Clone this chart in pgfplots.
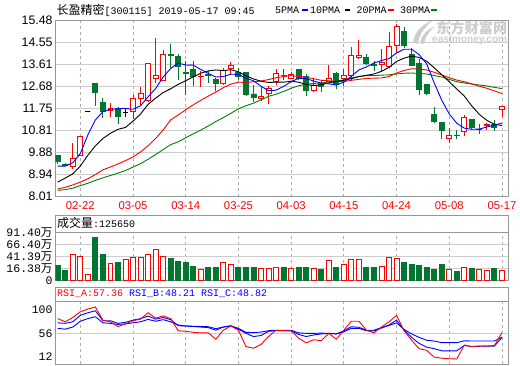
\documentclass[border=0pt]{standalone}
\usepackage{pgfplots}
\pgfplotsset{compat=1.18}
\usepackage{pgfplotstable}
\usepgfplotslibrary{statistics}
\usepackage{fontspec}
\setmainfont{Liberation Sans}
\setmonofont{Liberation Mono}
\newfontfamily\cjk{Noto Sans CJK SC}
\definecolor{kred}{RGB}{255,0,0}
\definecolor{kgreen}{RGB}{0,118,48}
\definecolor{mgreen}{RGB}{0,128,0}
\definecolor{framec}{RGB}{150,150,150}
\definecolor{gridc}{RGB}{205,205,205}
\definecolor{wm}{RGB}{205,205,205}

\pgfplotstableread{
i lo bot top hi
0 9.38 9.50 9.74 9.76
1 9.30 9.35 9.38 9.45
2 9.20 9.31 9.63 10.28
3 9.75 9.77 10.57 10.60
4 11.63 11.63 11.63 11.63
5 11.84 12.42 12.80 12.80
6 11.34 11.62 12.02 12.22
7 11.41 11.67 11.77 11.97
8 11.11 11.41 11.74 11.83
9 11.40 11.58 11.58 11.72
10 11.31 11.62 12.20 12.34
11 11.91 12.20 12.41 12.68
12 12.02 12.10 13.65 13.67
13 12.84 13.02 13.16 14.75
14 12.93 12.95 14.05 14.22
15 13.48 14.00 14.03 14.48
16 12.98 13.55 13.97 14.05
17 12.34 13.25 13.30 13.77
18 12.70 13.11 13.41 13.77
19 12.65 13.10 13.13 13.34
20 12.84 13.15 13.19 13.34
21 12.48 12.80 12.98 13.05
22 12.77 12.80 13.37 13.48
23 13.20 13.44 13.58 13.72
24 12.95 13.12 13.27 13.48
25 12.30 12.34 13.27 13.31
26 12.05 12.22 12.37 12.77
27 12.09 12.20 12.25 12.70
28 11.94 12.40 12.62 12.72
29 12.77 12.91 13.22 13.41
30 12.98 13.14 13.17 13.45
31 13.02 13.05 13.20 13.31
32 12.98 13.01 13.41 13.45
33 12.27 12.53 13.11 13.20
34 12.45 12.51 12.74 13.05
35 12.44 12.67 12.81 12.91
36 12.87 12.91 13.05 13.58
37 12.57 12.77 13.22 13.31
38 12.70 13.01 13.14 13.41
39 12.91 13.15 13.99 14.38
40 13.87 13.91 14.02 14.65
41 13.60 13.67 13.91 14.08
42 13.34 13.59 13.62 13.77
43 13.34 13.63 13.70 14.27
44 13.48 13.55 14.38 15.02
45 14.09 14.41 15.22 15.34
46 14.34 14.45 15.02 15.22
47 13.55 13.60 14.05 14.34
48 12.31 12.55 13.65 13.84
49 12.34 12.41 12.77 12.80
50 11.17 11.20 11.51 11.80
51 10.48 10.81 11.17 11.19
52 10.31 10.48 10.62 10.94
53 10.45 10.60 10.63 10.84
54 10.60 10.77 11.38 11.48
55 10.92 10.94 11.27 11.28
56 10.65 10.86 10.88 11.08
57 10.84 11.03 11.06 11.12
58 10.80 10.96 11.08 11.27
59 11.41 11.72 11.84 11.86
}\candles

\pgfplotstableread{
i ma5 ma10 ma20 ma30
0 9.31 8.63 8.34 8.28
1 9.31 8.80 8.41 8.31
2 9.45 8.98 8.51 8.37
3 9.84 9.31 8.63 8.48
4 10.63 9.77 8.77 8.58
5 11.27 10.17 8.95 8.70
6 11.62 10.48 9.15 8.81
7 11.72 10.70 9.27 8.91
8 11.74 10.87 9.40 9.01
9 11.76 10.95 9.54 9.12
10 11.72 11.22 9.70 9.27
11 11.87 11.52 9.91 9.41
12 12.25 11.93 10.17 9.60
13 12.60 12.19 10.48 9.80
14 13.09 12.43 10.84 10.01
15 13.45 12.59 11.27 10.22
16 13.68 12.78 11.48 10.34
17 13.60 12.93 11.70 10.51
18 13.59 13.10 11.91 10.68
19 13.41 13.25 12.10 10.84
20 13.24 13.35 12.28 11.01
21 13.09 13.39 12.45 11.20
22 13.11 13.36 12.64 11.37
23 13.21 13.40 12.79 11.55
24 13.20 13.31 12.87 11.74
25 13.04 13.14 12.86 11.87
26 12.93 13.01 12.89 11.98
27 12.70 12.91 12.92 12.12
28 12.51 12.86 12.98 12.27
29 12.53 12.87 13.06 12.36
30 12.69 12.87 13.11 12.48
31 12.89 12.91 13.15 12.61
32 13.04 12.87 13.11 12.72
33 13.02 12.77 13.08 12.78
34 12.92 12.73 13.02 12.82
35 12.83 12.76 12.95 12.83
36 12.80 12.84 12.93 12.88
37 12.75 12.90 12.90 12.91
38 12.87 12.95 12.90 12.97
39 13.12 13.02 12.95 13.05
40 13.39 13.11 12.99 13.11
41 13.52 13.16 13.03 13.15
42 13.68 13.22 13.04 13.15
43 13.79 13.33 13.05 13.17
44 13.87 13.50 13.11 13.18
45 14.11 13.75 13.26 13.22
46 14.27 13.89 13.37 13.25
47 14.27 13.98 13.44 13.26
48 14.04 13.92 13.43 13.24
49 13.65 13.76 13.39 13.22
50 12.84 13.48 13.29 13.15
51 12.11 13.19 13.18 13.09
52 11.52 12.89 13.06 12.99
53 11.13 12.58 12.96 12.89
54 10.92 12.28 12.89 12.84
55 10.87 11.86 12.80 12.79
56 10.88 11.50 12.70 12.75
57 10.97 11.25 12.61 12.71
58 11.04 11.09 12.50 12.65
59 11.14 11.03 12.39 12.60
}\mas

\pgfplotstableread{
i v b
0 23.3 -8.63
1 13.0 -8.63
2 45.4 -8.63
3 41.3 -8.63
4 4.1 -8.63
5 81.1 -8.63
6 46.0 -8.63
7 26.8 -8.63
8 28.9 -8.63
9 35.7 -8.63
10 39.2 -8.63
11 39.2 -8.63
12 45.4 -8.63
13 56.4 -8.63
14 41.3 -8.63
15 36.4 -8.63
16 31.5 -8.63
17 28.9 -8.63
18 21.2 -8.63
19 15.1 -8.63
20 17.9 -8.63
21 19.2 -8.63
22 28.9 -8.63
23 25.4 -8.63
24 19.2 -8.63
25 17.9 -8.63
26 17.9 -8.63
27 16.5 -8.63
28 16.5 -8.63
29 18.6 -8.63
30 19.2 -8.63
31 16.5 -8.63
32 17.9 -8.63
33 17.9 -8.63
34 16.5 -8.63
35 15.1 -8.63
36 33.0 -8.63
37 17.9 -8.63
38 24.8 -8.63
39 35.7 -8.63
40 35.7 -8.63
41 19.2 -8.63
42 17.9 -8.63
43 20.7 -8.63
44 39.2 -8.63
45 37.1 -8.63
46 29.6 -8.63
47 25.4 -8.63
48 23.3 -8.63
49 17.9 -8.63
50 15.1 -8.63
51 25.4 -8.63
52 15.1 -8.63
53 11.0 -8.63
54 18.6 -8.63
55 17.2 -8.63
56 15.1 -8.63
57 13.0 -8.63
58 17.2 -8.63
59 12.6 -8.63
}\vols

\pgfplotstableread{
i a b c
0 84 76 65.5
1 78 75 64
2 86 78 68
3 97 90 79
4 102 95 84
5 106 98.8 87.5
6 81 80 76
7 78 80 75
8 69 75 73
9 74 77 74
10 80 81 76
11 83 84 78
12 95 88.8 82.5
13 85 83 79
14 89 86 82
15 84 82 78
16 61 70.5 71.8
17 60 70 70
18 58 69 69.5
19 57 68 69
20 57 67 68.6
21 45 62 65
22 62 68 68
23 70 70.5 70
24 62 64 65.5
25 31 56 58
26 28 50 57.5
27 35 52 58.5
28 50 60 61
29 62 61 62
30 61 61 62
31 61 60.5 62
32 47 54 57
33 38 50 56
34 44 53 56
35 42 55 56.5
36 56 56 56
37 45 55 55
38 62 59 61
39 79 65.5 68.6
40 79 65.5 67.5
41 62 61 62
42 57 60.5 62
43 68 66 67
44 78 72 71
45 90 81 76
46 61 62 63.6
47 43 48.4 55
48 27 37 48.4
49 24 30 43
50 11 27 41.5
51 9 23 38.4
52 8 23 38.4
53 7.5 23 38.4
54 34 33 42
55 31 31 41.5
56 32 31.5 41.5
57 32 32 41.5
58 33 32 41.5
59 57.4 48.2 48.8
}\rsi

\pgfplotsset{
  panel/.style={
    scale only axis, width=452.8pt, xmin=-0.27, xmax=59.87,
    anchor=south west,
    axis line style={framec, line width=0.9pt},
    tick style={draw=none},
    xtick={3,10,17,24,31,38,45,52,59},
    xmajorgrids,
    x grid style={color=gridc!85!black, dash pattern=on 3pt off 3pt, line width=0.8pt},
    y grid style={color=gridc, line width=0.8pt},
    yticklabel style={anchor=east, inner sep=0pt, xshift=-3pt},
  },
  upc/.style={draw=kred, fill=white, line width=0.9pt},
  dnc/.style={draw=kgreen, fill=kgreen, line width=0.9pt},
  djc/.style={draw=black, fill=white, line width=0.9pt},
}
% candle: style, row (= position); values read from \candles
\newcommand\candle[2]{%
  \pgfplotstablegetelem{#2}{lo}\of\candles\let\vlo\pgfplotsretval
  \pgfplotstablegetelem{#2}{bot}\of\candles\let\vbot\pgfplotsretval
  \pgfplotstablegetelem{#2}{top}\of\candles\let\vtop\pgfplotsretval
  \pgfplotstablegetelem{#2}{hi}\of\candles\let\vhi\pgfplotsretval
  \edef\tmpplot{\noexpand\addplot[#1, boxplot prepared={draw direction=y, draw position=#2,
      lower whisker=\vlo, lower quartile=\vbot, median=\vtop,
      upper quartile=\vtop, upper whisker=\vhi,
      box extend=0.66, whisker extend=0}] coordinates {};}%
  \tmpplot}
\newcommand\volbar[2]{%
  \pgfplotstablegetelem{#2}{v}\of\vols\let\vv\pgfplotsretval
  \pgfplotstablegetelem{#2}{b}\of\vols\let\vb\pgfplotsretval
  \edef\tmpplot{\noexpand\addplot[#1, boxplot prepared={draw direction=y, draw position=#2,
      lower whisker=\vb, lower quartile=\vb, median=\vv,
      upper quartile=\vv, upper whisker=\vv,
      box extend=0.66, whisker extend=0}] coordinates {};}%
  \tmpplot}

\begin{document}
\begin{tikzpicture}[x=1pt,y=1pt]
\useasboundingbox (0,0) rectangle (520,365);

% watermark
\fill[wm] (413,323) .. controls (415,334) and (423,341) .. (433,345)
  .. controls (425,338) and (419,331) .. (418,321) -- cycle;
\fill[wm] (420,322) .. controls (422,331) and (428,336) .. (434,338)
  .. controls (429,333) and (425,328) .. (424,321) -- cycle;
\node[anchor=west, inner sep=0pt, text=wm] at (436,336.5)
  {\cjk\bfseries\fontsize{14.2}{15}\selectfont 东方财富网};
\node[anchor=west, inner sep=0pt, text=wm] at (432,325)
  {\bfseries\fontsize{10}{11}\selectfont eastmoney.com};

% titles
\node[anchor=west, inner sep=0pt] at (56.5,355)
  {{\cjk\fontsize{12}{14}\selectfont 长盈精密}{\ttfamily\fontsize{10}{12}\selectfont [300115] 2019-05-17 09:45}};
\node[anchor=west, inner sep=0pt] at (275,355) {\ttfamily\fontsize{10}{12}\selectfont 5PMA};
\draw[blue, line width=2pt] (302,354.5) -- (307.5,354.5);
\node[anchor=west, inner sep=0pt] at (310,355) {\ttfamily\fontsize{10}{12}\selectfont 10PMA};
\draw[black, line width=2pt] (344.5,354.5) -- (350,354.5);
\node[anchor=west, inner sep=0pt] at (356.5,355) {\ttfamily\fontsize{10}{12}\selectfont 20PMA};
\draw[kred, line width=2pt] (388,354.5) -- (393.5,354.5);
\node[anchor=west, inner sep=0pt] at (400,355) {\ttfamily\fontsize{10}{12}\selectfont 30PMA};
\draw[mgreen, line width=2pt] (431,354.5) -- (436.5,354.5);

% ---------- price panel ----------
\begin{axis}[panel, at={(55.7pt,168.3pt)}, height=176pt,
  ymin=8.01, ymax=15.48, ymajorgrids,
  ytick={8.01,8.94375,9.8775,10.81125,11.745,12.67875,13.6125,14.54625,15.48},
  yticklabels={8.01,8.94,9.88,10.81,11.75,12.68,13.61,14.55,15.48},
  yticklabel style={font=\fontsize{12.3}{13}\selectfont},
  xticklabels={02-22,03-05,03-14,03-25,04-03,04-15,04-24,05-08,05-17},
  xticklabel style={text=kred, font=\fontsize{11.3}{12}\selectfont, inner sep=0pt, yshift=-4.5pt}]
\pgfplotsinvokeforeach{2,3,7,10,11,12,13,14,19,22,23,27,28,29,31,34,36,38,39,40,43,44,45,52,54,56,57,59}{\candle{upc}{#1}}
\pgfplotsinvokeforeach{0,1,5,6,8,15,16,17,18,20,21,24,25,26,30,32,33,35,37,41,42,46,47,48,49,50,51,53,55,58}{\candle{dnc}{#1}}
\pgfplotsinvokeforeach{4,9}{\candle{djc}{#1}}
\addplot[mgreen, line width=0.9pt] table[x=i, y=ma30] {\mas};
\addplot[kred, line width=0.9pt] table[x=i, y=ma20] {\mas};
\addplot[black, line width=0.9pt] table[x=i, y=ma10] {\mas};
\addplot[blue, line width=0.9pt] table[x=i, y=ma5] {\mas};
\end{axis}

% ---------- volume panel ----------
\draw[framec, line width=0.9pt] (55.7,132.7) -- (55.7,150) -- (508.5,150) -- (508.5,132.7);
\node[anchor=west, inner sep=0pt] at (57,142)
  {{\cjk\fontsize{12}{14}\selectfont 成交量}{\ttfamily\fontsize{10}{12}\selectfont :125650}};
\begin{axis}[panel, at={(55.7pt,84.5pt)}, height=48.2pt,
  ymin=-8.63, ymax=91.40, ymajorgrids,
  ytick={-8.63,16.38,41.39,66.40,91.40},
  yticklabels={0,16.38{\cjk 万},41.39{\cjk 万},66.40{\cjk 万},91.40{\cjk 万}},
  yticklabel style={font=\ttfamily\fontsize{11.5}{12}\selectfont},
  xticklabels={}]
\pgfplotsinvokeforeach{2,3,4,7,9,10,11,12,13,14,19,22,23,27,28,29,31,34,36,38,39,40,43,44,45,52,54,56,57,59}{\volbar{upc}{#1}}
\pgfplotsinvokeforeach{0,1,5,6,8,15,16,17,18,20,21,24,25,26,30,32,33,35,37,41,42,46,47,48,49,50,51,53,55,58}{\volbar{dnc}{#1}}
\end{axis}

% ---------- RSI panel ----------
\draw[framec, line width=0.9pt] (55.7,63.3) -- (55.7,77.7) -- (508.5,77.7) -- (508.5,63.3);
\node[anchor=west, inner sep=0pt] at (57,71)
  {\ttfamily\fontsize{10}{12}\selectfont\textcolor{kred}{RSI\_A:57.36} \textcolor{blue}{RSI\_B:48.21} \textcolor{blue}{RSI\_C:48.82}};
\begin{axis}[panel, at={(55.7pt,1pt)}, height=62.3pt,
  ymin=-2, ymax=116,
  ytick={12,56,100},
  yticklabels={12,56,100},
  yticklabel style={font=\ttfamily\fontsize{11.5}{12}\selectfont},
  xticklabels={}]
\draw[gridc, line width=0.8pt] (axis cs:-0.27,56) -- (axis cs:59.87,56);
\addplot[blue, line width=0.9pt] table[x=i, y=c] {\rsi};
\addplot[blue, line width=0.9pt] table[x=i, y=b] {\rsi};
\addplot[kred, line width=0.9pt] table[x=i, y=a] {\rsi};
\end{axis}
\end{tikzpicture}
\end{document}
